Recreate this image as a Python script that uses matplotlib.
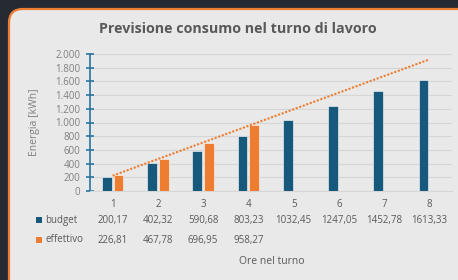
import numpy as np
import matplotlib.pyplot as plt
import matplotlib.transforms as mtrans
from matplotlib.patches import FancyBboxPatch, Rectangle

plt.rcParams.update({
    "font.family": ["Open Sans", "DejaVu Sans"],
    "font.size": 7,
})

# data
ore = [1, 2, 3, 4, 5, 6, 7, 8]
budget = [200.17, 402.32, 590.68, 803.23, 1032.45, 1247.05, 1452.78, 1613.33]
effettivo = [226.81, 467.78, 696.95, 958.27]
budget_lbl = ["200,17", "402,32", "590,68", "803,23", "1032,45", "1247,05", "1452,78", "1613,33"]
eff_lbl = ["226,81", "467,78", "696,95", "958,27"]

c_budget = "#17597c"
c_eff = "#ed7d31"
c_text = "#595959"
c_axis = "#2a75a3"

W, H = 458, 280
fig = plt.figure(figsize=(W / 100, H / 100), dpi=100, facecolor="#252a33")

# rounded panel with orange border
panel = FancyBboxPatch((9 / W, -0.1), 1.2, (H - 9) / H + 0.1,
                       boxstyle="round,pad=0,rounding_size=0.03",
                       mutation_aspect=W / H,
                       transform=fig.transFigure, facecolor="#e9e9e9",
                       edgecolor=c_eff, linewidth=1.6, zorder=0)
fig.add_artist(panel)

ax = fig.add_axes([90 / W, (H - 191) / H, (452 - 90) / W, (191 - 54) / H])
ax.set_facecolor("none")

x = np.array(ore)
bw = 0.22
ax.bar(x - bw / 2 - 0.02, budget, width=bw, color=c_budget, edgecolor="white", linewidth=0.4, zorder=3)
ax.bar(x[:len(effettivo)] + bw / 2 + 0.02, effettivo, width=bw, color=c_eff, edgecolor="white", linewidth=0.4, zorder=3)

# linear trendline on effettivo, extended to all hours
k, q = np.polyfit(x[:len(effettivo)], effettivo, 1)
ax.plot(x, k * x + q, color=c_eff, linestyle=(0, (1, 0.8)), linewidth=1.5, zorder=4)

ax.set_xlim(0.5, 8.5)
ax.set_ylim(0, 2000)
yt = np.arange(0, 2001, 200)
ax.set_yticks(yt)
ax.set_yticklabels([f"{v:,}".replace(",", ".") for v in yt], color="#7f7f7f", fontsize=7)
ax.set_xticks(x)
ax.set_xticklabels([str(v) for v in ore], color=c_text, fontsize=7)
ax.tick_params(axis="x", length=0, pad=6)
ax.tick_params(axis="y", direction="inout", length=6, width=1.2, color=c_axis, pad=4)
ax.grid(axis="y", color="#d6d6d6", linewidth=0.8, zorder=0)
for s in ["top", "right"]:
    ax.spines[s].set_visible(False)
ax.spines["bottom"].set_color("#d6d6d6")
ax.spines["left"].set_color(c_axis)
ax.spines["left"].set_linewidth(1.2)

ax.set_ylabel("Energia [kWh]", color="#7f7f7f", fontsize=7.5, labelpad=11)
fig.text(238 / W, 1 - 29 / H, "Previsione consumo nel turno di lavoro",
         ha="center", va="center", fontsize=10.3, fontweight="bold", color=c_text)

# data table below the axis
blend = mtrans.blended_transform_factory(ax.transData, fig.transFigure)
y_b = 1 - 220 / H
y_e = 1 - 240 / H
for xi, t in zip(x, budget_lbl):
    fig.text(xi, y_b, t, transform=blend, ha="center", va="center", color=c_text, fontsize=7)
for xi, t in zip(x, eff_lbl):
    fig.text(xi, y_e, t, transform=blend, ha="center", va="center", color=c_text, fontsize=7)

for yy, name, col in [(y_b, "budget", c_budget), (y_e, "effettivo", c_eff)]:
    fig.add_artist(Rectangle((36 / W, yy - 3 / H), 6 / W, 6 / H,
                             transform=fig.transFigure, facecolor=col, edgecolor="none"))
    fig.text(45 / W, yy, name, ha="left", va="center", color=c_text, fontsize=7)

fig.text(272 / W, 1 - 261 / H, "Ore nel turno", ha="center", va="center",
         color=c_text, fontsize=7.5)

fig.savefig("out.png", dpi=100, facecolor=fig.get_facecolor())
